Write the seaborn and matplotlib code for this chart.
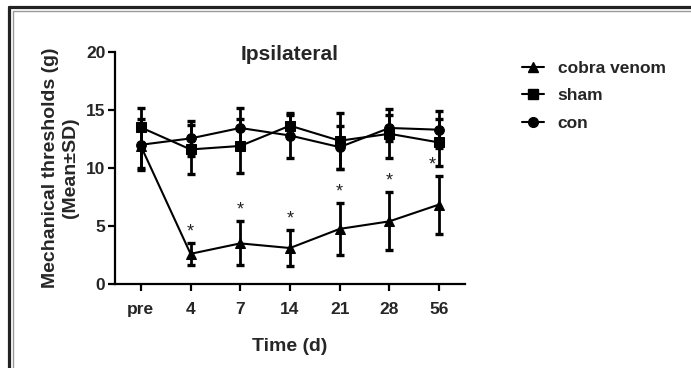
import numpy as np
import pandas as pd
import matplotlib
matplotlib.use("Agg")
import matplotlib.pyplot as plt
from matplotlib.lines import Line2D
import seaborn as sns

# ── Data ──
time_labels = ["pre", "4", "7", "14", "21", "28", "56"]
groups = ["cobra venom", "sham", "con"]

cobra_mean = [11.9, 2.6, 3.5, 3.1, 4.75, 5.4, 6.85]
cobra_sd = [1.9, 0.95, 1.9, 1.55, 2.25, 2.5, 2.5]

sham_mean = [13.5, 11.6, 11.9, 13.65, 12.35, 12.95, 12.2]
sham_sd = [1.7, 2.1, 2.35, 0.9, 2.4, 2.1, 2.0]

con_mean = [12.0, 12.55, 13.45, 12.8, 11.8, 13.45, 13.3]
con_sd = [2.2, 1.5, 1.75, 1.9, 1.85, 1.1, 1.6]

markers = {"cobra venom": "^", "sham": "s", "con": "o"}

sns.set_style("ticks")
plt.rcParams["font.family"] = ["Liberation Sans", "DejaVu Sans"]
plt.rcParams["font.weight"] = "bold"

rows = []
for g, means, sds in [("cobra venom", cobra_mean, cobra_sd),
                      ("sham", sham_mean, sham_sd),
                      ("con", con_mean, con_sd)]:
    for i, (m, s) in enumerate(zip(means, sds)):
        rows.append({"pos": i, "Time": time_labels[i], "group": g, "mean": m, "sd": s})
df = pd.DataFrame(rows)

fig = plt.figure(figsize=(6.91, 3.68), dpi=100)
ax = fig.add_axes([0.1664, 0.2283, 0.5065, 0.6304])

# error bars first, lines and markers on top
for g in groups:
    sub = df[df["group"] == g]
    ax.errorbar(sub["pos"], sub["mean"], yerr=sub["sd"], fmt="none",
                ecolor="black", elinewidth=2.0, capsize=3.0, capthick=2.4, zorder=2)

sns.lineplot(data=df, x="pos", y="mean", hue="group", style="group",
             hue_order=groups, style_order=groups,
             palette=["black"] * 3, markers=markers, dashes=False,
             markersize=7, markeredgecolor="black", linewidth=1.5,
             errorbar=None, legend=False, ax=ax, zorder=3)

# significance stars above the cobra venom group
for i in range(1, len(time_labels)):
    dx = -0.13 if i == len(time_labels) - 1 else 0
    ax.text(i + dx, cobra_mean[i] + cobra_sd[i] + 0.95, "*", ha="center", va="center",
            fontsize=13, fontweight="normal", color="#222222")

ax.set_xlim(-0.52, 6.52)
ax.set_ylim(0, 20)
ax.set_yticks([0, 5, 10, 15, 20])
ax.set_xticks(range(len(time_labels)))
ax.set_xticklabels(time_labels)
ax.tick_params(axis="both", labelsize=12.5, width=1.6, length=5, color="black", pad=2)
ax.tick_params(axis="x", pad=8)
for lab in ax.get_xticklabels() + ax.get_yticklabels():
    lab.set_fontweight("bold")
for side in ["left", "bottom"]:
    ax.spines[side].set_linewidth(1.6)
    ax.spines[side].set_color("black")
sns.despine(ax=ax)

ax.set_xlabel("Time (d)", fontsize=14, fontweight="bold", labelpad=15)
ax.set_ylabel("Mechanical thresholds (g)\n(Mean±SD)", fontsize=14, fontweight="bold",
              labelpad=5, linespacing=1.2)
ax.text(0.5, 0.99, "Ipsilateral", transform=ax.transAxes, ha="center", va="center",
        fontsize=15, fontweight="bold")

handles = [Line2D([0], [0], color="black", lw=1.5, marker=markers[g], markersize=7)
           for g in groups]
fig.legend(handles, groups, loc="upper left", bbox_to_anchor=(0.733, 0.878),
           frameon=False, handlelength=1.25, handletextpad=0.8, labelspacing=0.72,
           prop={"size": 12.5, "weight": "bold"})

# figure frame (dark + thin grey line on the top and left)
W, H = 691, 368
fig.add_artist(Line2D([8.5 / W, 1], [1 - 6.5 / H, 1 - 6.5 / H], color="#222222", lw=2.3,
                      transform=fig.transFigure))
fig.add_artist(Line2D([8.5 / W, 8.5 / W], [0, 1 - 6.5 / H], color="#222222", lw=2.3,
                      transform=fig.transFigure))
fig.add_artist(Line2D([12.5 / W, 1], [1 - 10.5 / H, 1 - 10.5 / H], color="#9a9a9a", lw=1.0,
                      transform=fig.transFigure))
fig.add_artist(Line2D([12.5 / W, 12.5 / W], [0, 1 - 10.5 / H], color="#9a9a9a", lw=1.0,
                      transform=fig.transFigure))

fig.savefig("out.png", dpi=100)
